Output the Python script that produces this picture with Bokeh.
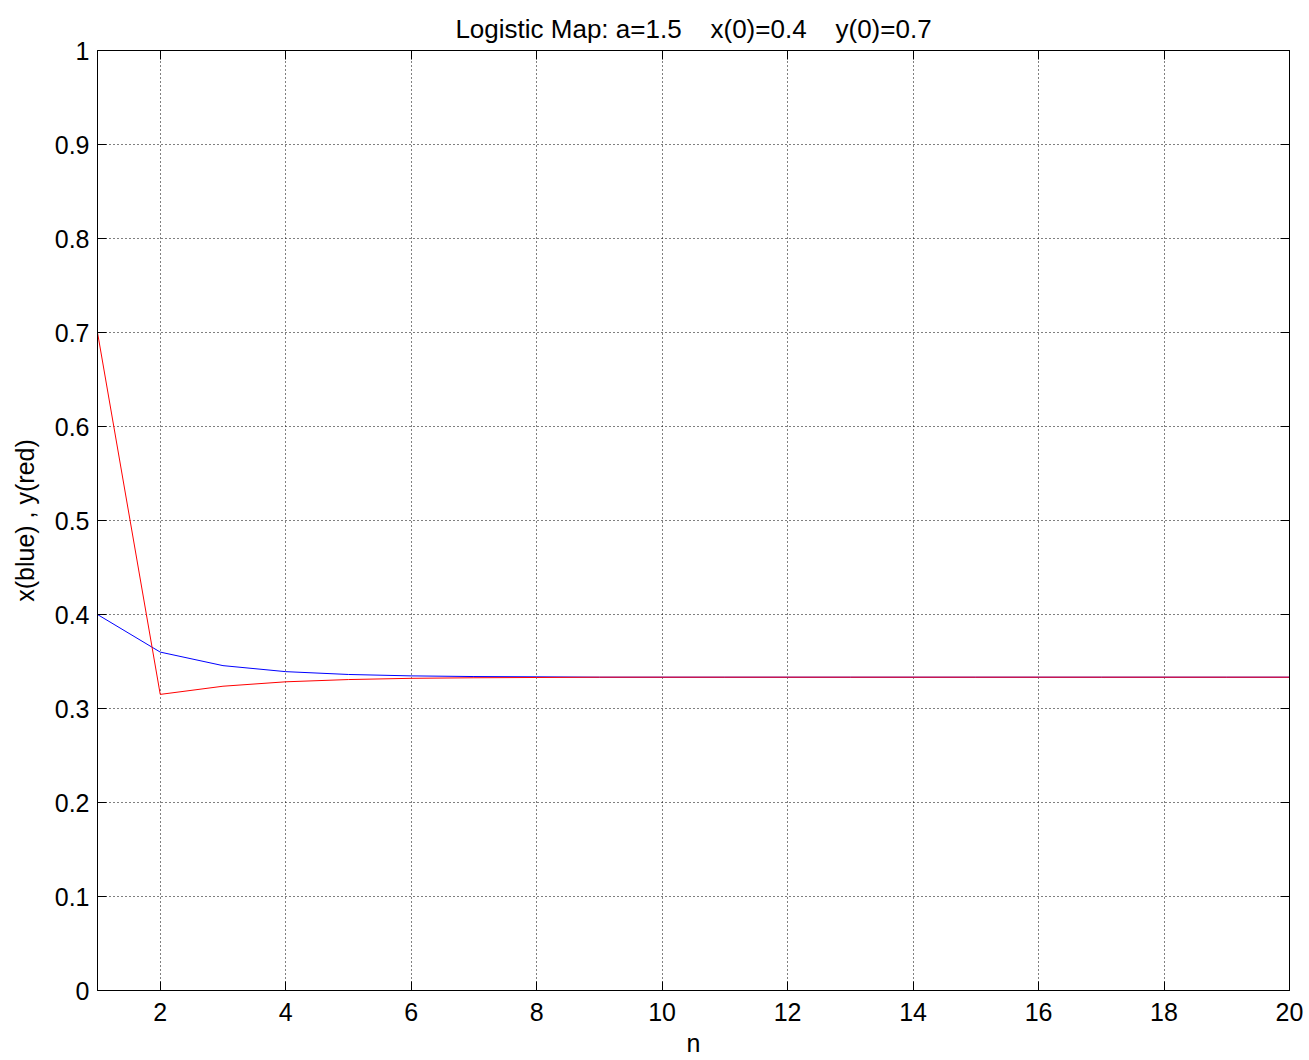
from bokeh.plotting import figure
from bokeh.models import (FixedTicker, LinearAxis, Range1d, CustomJSTickFormatter)
from bokeh.embed import file_html
from bokeh.resources import INLINE

# iteration index and the two orbits of the logistic map
n_vals = list(range(1, 21))
x_orbit = [0.4, 0.36, 0.3456, 0.3392, 0.3362, 0.3347, 0.3340, 0.3337, 0.3333, 0.3333,
           0.3333, 0.3333, 0.3333, 0.3333, 0.3333, 0.3333, 0.3333, 0.3333, 0.3333, 0.3333]
y_orbit = [0.7, 0.315, 0.3237, 0.3284, 0.3308, 0.3321, 0.3327, 0.3330, 0.3333, 0.3333,
           0.3333, 0.3333, 0.3333, 0.3333, 0.3333, 0.3333, 0.3333, 0.3333, 0.3333, 0.3333]

x_ticks = [2, 4, 6, 8, 10, 12, 14, 16, 18, 20]
y_ticks = [0, 0.1, 0.2, 0.3, 0.4, 0.5, 0.6, 0.7, 0.8, 0.9, 1]

# non-breaking spaces keep the wide gaps between the parameters
title_text = "Logistic Map: a=1.5\u00a0\u00a0\u00a0 x(0)=0.4\u00a0\u00a0\u00a0 y(0)=0.7"
FONT = "Liberation Sans"

p = figure(width=1309, height=1060, output_backend="svg", toolbar_location=None,
           x_range=Range1d(1, 20), y_range=Range1d(0, 1),
           min_border_left=97, min_border_right=20, min_border_top=50,
           min_border_bottom=70, title=title_text)

p.title.text_font = FONT
p.title.text_font_size = "26px"
p.title.text_font_style = "normal"
p.title.align = "center"
p.title.vertical_align = "top"
p.title.text_color = "black"
p.title.offset = 0
p.title.standoff = 10

p.background_fill_color = "white"
p.border_fill_color = "white"
p.outline_line_color = "black"
p.outline_line_width = 1

fmt = CustomJSTickFormatter(code="return String(Number(tick.toFixed(2)));")

for ax in (p.xaxis[0], p.yaxis[0]):
    ax.major_label_text_font = FONT
    ax.major_label_text_font_size = "25px"
    ax.major_label_text_color = "black"
    ax.axis_label_text_font = FONT
    ax.axis_label_text_font_size = "25px"
    ax.axis_label_text_font_style = "normal"
    ax.axis_label_text_color = "black"
    ax.axis_line_color = "black"
    ax.major_tick_line_color = "black"
    ax.major_tick_in = 9
    ax.major_tick_out = 0
    ax.minor_tick_line_color = None
    ax.formatter = fmt

p.xaxis[0].ticker = FixedTicker(ticks=x_ticks)
p.yaxis[0].ticker = FixedTicker(ticks=y_ticks)
p.xaxis[0].axis_label = "n"
p.yaxis[0].axis_label = "x(blue) , y(red)"
p.xaxis[0].major_label_standoff = 12
p.yaxis[0].major_label_standoff = 8
p.xaxis[0].axis_label_standoff = 5
p.yaxis[0].axis_label_standoff = 13

# mirrored tick marks on the top and right edges (no labels)
for loc, tk in (("above", x_ticks), ("right", y_ticks)):
    ax = LinearAxis(ticker=FixedTicker(ticks=tk))
    ax.major_label_text_font_size = "1px"
    ax.major_label_text_color = None
    ax.major_label_standoff = 0
    ax.axis_line_color = "black"
    ax.major_tick_line_color = "black"
    ax.major_tick_in = 9
    ax.major_tick_out = 0
    ax.minor_tick_line_color = None
    p.add_layout(ax, loc)

p.xgrid.ticker = FixedTicker(ticks=x_ticks)
p.ygrid.ticker = FixedTicker(ticks=y_ticks)
for g in (p.xgrid, p.ygrid):
    g.grid_line_color = "black"
    g.grid_line_dash = "1 3"
    g.grid_line_width = 1
    g.grid_line_alpha = 1.0

p.line(n_vals, x_orbit, line_color="#0000ff", line_width=1)
p.line(n_vals, y_orbit, line_color="#ff0000", line_width=1)

open("out.html", "w").write(file_html(p, INLINE))
